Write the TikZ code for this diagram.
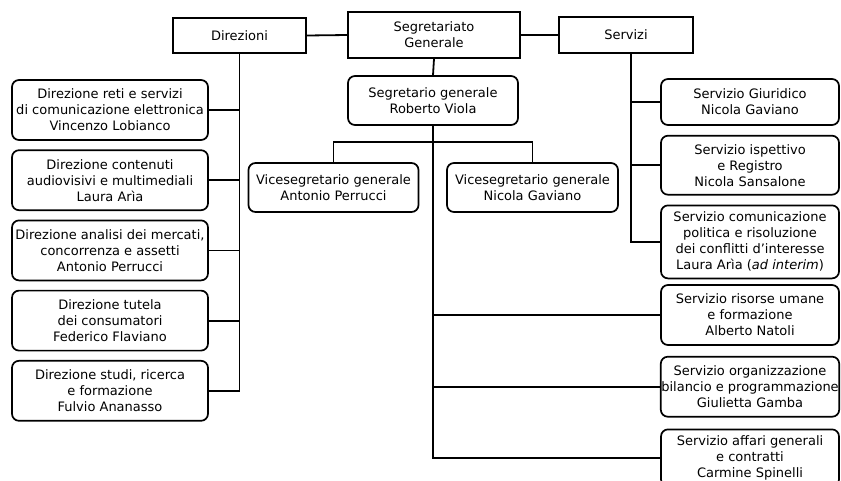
\documentclass[tikz,border=0pt]{standalone}
\usepackage{fontspec}
\setmainfont{DejaVu Sans}
\usetikzlibrary{positioning}

\begin{document}
\begin{tikzpicture}[x=1pt,y=-1pt]
    \tikzstyle{head}=[draw, line width=1.7pt, align=center, inner sep=0.5pt, font=\fontsize{13}{16}\selectfont]
    \tikzstyle{office}=[draw, line width=1.7pt, rounded corners=7pt, align=center, inner sep=0.5pt, font=\fontsize{13}{16}\selectfont]
    \tikzstyle{dirbox}=[office, minimum width=196pt, minimum height=60pt]
    \tikzstyle{servbox}=[office, minimum width=178pt, minimum height=60pt]
    \tikzstyle{link}=[line width=1.8pt]
    \useasboundingbox (0,0) rectangle (841,480);

    % top row
    \node (SG) [head, minimum width=172pt, minimum height=46pt] at (434,35) {Segretariato\\Generale};
    \node (Dir) [head, minimum width=133pt, minimum height=35pt] at (239.5,35.5) {Direzioni};
    \node (Serv) [head, minimum width=134pt, minimum height=36pt] at (626,35) {Servizi};
    \draw [link] (Dir.east) -- (SG.west);
    \draw [link] (SG.east) -- (Serv.west);

    % segretario and vice
    \node (Segr) [office, minimum width=170pt, minimum height=49pt] at (433,100.5) {Segretario generale\\Roberto Viola};
    \node (Vice1) [office, minimum width=170pt, minimum height=49pt] at (333.5,187.5) {Vicesegretario generale\\Antonio Perrucci};
    \node (Vice2) [office, minimum width=171pt, minimum height=49pt] at (532.5,187.5) {Vicesegretario generale\\Nicola Gaviano};
    \draw [link] (SG.south) -- (Segr.north);
    \draw [link] (Vice1.north) -- ++(0,-20) -| (Vice2.north);

    % direzioni
    \node (D1) [dirbox] at (110,110) {Direzione reti e servizi\\di comunicazione elettronica\\Vincenzo Lobianco};
    \node (D2) [dirbox, below=8.5pt of D1] {Direzione contenuti\\audiovisivi e multimediali\\Laura Arìa};
    \node (D3) [dirbox, below=8.5pt of D2] {Direzione analisi dei mercati,\\concorrenza e assetti\\Antonio Perrucci};
    \node (D4) [dirbox, below=8.5pt of D3] {Direzione tutela\\dei consumatori\\Federico Flaviano};
    \node (D5) [dirbox, below=8.5pt of D4] {Direzione studi, ricerca\\e formazione\\Fulvio Ananasso};
    \foreach \d in {D1,D2,D3,D4,D5}
        \draw [link] (Dir.south) |- (\d.east);

    % servizi
    \node (S1) [servbox, minimum height=46pt] at (750,102) {Servizio Giuridico\\Nicola Gaviano};
    \node (S2) [servbox, minimum height=59pt, below=9pt of S1] {Servizio ispettivo\\e Registro\\Nicola Sansalone};
    \node (S3) [servbox, minimum height=73pt, below=9pt of S2] {Servizio comunicazione\\politica e risoluzione\\dei conflitti d’interesse\\Laura Arìa (\textit{ad interim})};
    \foreach \s in {S1,S2,S3}
        \draw [link] ([xshift=5pt]Serv.south) |- (\s.west);

    \node (S4) [servbox] at (750,315) {Servizio risorse umane\\e formazione\\Alberto Natoli};
    \node (S5) [servbox, below=10pt of S4] {Servizio organizzazione\\bilancio e programmazione\\Giulietta Gamba};
    \node (S6) [servbox, minimum height=57pt, below=11pt of S5] {Servizio affari generali\\e contratti\\Carmine Spinelli};
    \foreach \s in {S4,S5,S6}
        \draw [link] (Segr.south) |- (\s.west);

\end{tikzpicture}
\end{document}
